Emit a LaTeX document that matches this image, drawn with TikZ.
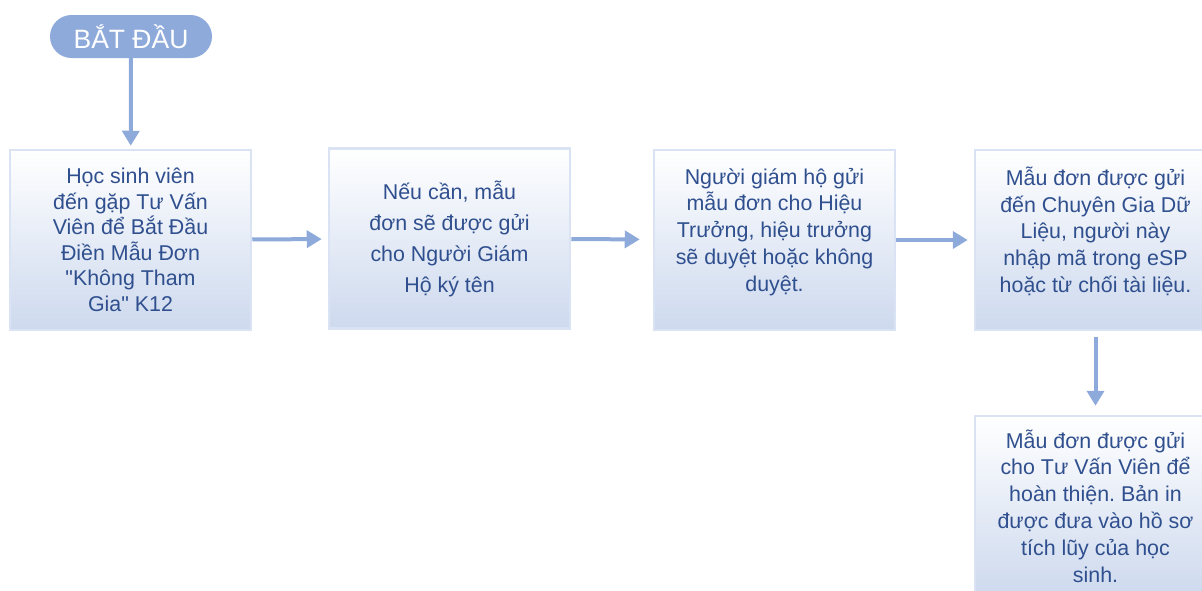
\documentclass[tikz,border=0pt]{standalone}
\usepackage{fontspec}
\setmainfont{Liberation Sans}[Ligatures=TeXOff]
\usetikzlibrary{arrows.meta}
\definecolor{flowblue}{HTML}{8EAADB}
\definecolor{boxtop}{HTML}{FFFFFF}
\definecolor{boxbottom}{HTML}{CDD9EE}
\definecolor{boxline}{HTML}{DAE3F3}
\definecolor{textblue}{HTML}{2F4F8E}
\frenchspacing
\tikzset{
  stepbox/.style={rectangle,top color=boxtop,bottom color=boxbottom,
    draw=boxline,line width=2.5pt,minimum width=241pt,minimum height=180pt,
    align=center,text=textblue,inner sep=0pt,
    font=\fontsize{21.4}{25.5}\selectfont},
  startpill/.style={rectangle,rounded corners=21.5pt,fill=flowblue,
    minimum width=162pt,minimum height=43pt,text=white,
    font=\fontsize{26.5}{30}\selectfont},
  flow/.style={draw=flowblue,line width=4pt,
    -{Triangle[length=15pt,width=17pt]}}
}
\begin{document}
\begin{tikzpicture}[x=1pt,y=-1pt]
    \useasboundingbox (0,0) rectangle (1202,590);
    % start and the boxes
    \node[startpill] (start) at (131,36.5) {BẮT ĐẦU};
    \node[stepbox] (visit) at (130.5,240)
      {Học sinh viên\\đến gặp Tư Vấn\\Viên để Bắt Đầu\\Điền Mẫu Đơn\\"Không Tham\\Gia" K12};
    \node[stepbox,font=\fontsize{21.4}{31}\selectfont] (guardian) at (449.5,238.5)
      {Nếu cần, mẫu\\đơn sẽ được gửi\\cho Người Giám\\Hộ ký tên};
    \node[stepbox,font=\fontsize{21.4}{26.8}\selectfont] (principal) at (774.5,240)
      {Người giám hộ gửi\\mẫu đơn cho Hiệu\\Trưởng, hiệu trưởng\\sẽ duyệt hoặc không\\duyệt.\\[-6pt]\mbox{}};
    \node[stepbox,font=\fontsize{21.4}{26.8}\selectfont] (datapro) at (1095.5,240)
      {Mẫu đơn được gửi\\đến Chuyên Gia Dữ\\Liệu, người này\\nhập mã trong eSP\\hoặc từ chối tài liệu.\\[-6pt]\mbox{}};
    \node[stepbox,font=\fontsize{21.4}{26.8}\selectfont] (counselor) at (1095.5,506)
      {Mẫu đơn được gửi\\cho Tư Vấn Viên để\\hoàn thiện. Bản in\\được đưa vào hồ sơ\\tích lũy của học\\sinh.};
    % connectors
    \draw[flow,shorten >=3pt] (start) -- (visit);
    \draw[flow,shorten >=6pt] (visit) -- (guardian);
    \draw[flow,shorten >=13pt] (guardian) -- (principal);
    \draw[flow,shorten >=6pt] (principal) -- (visit.east -| datapro.west);
    \draw[flow,shorten <=6pt,shorten >=9pt] (datapro) -- (counselor);
\end{tikzpicture}
\end{document}
